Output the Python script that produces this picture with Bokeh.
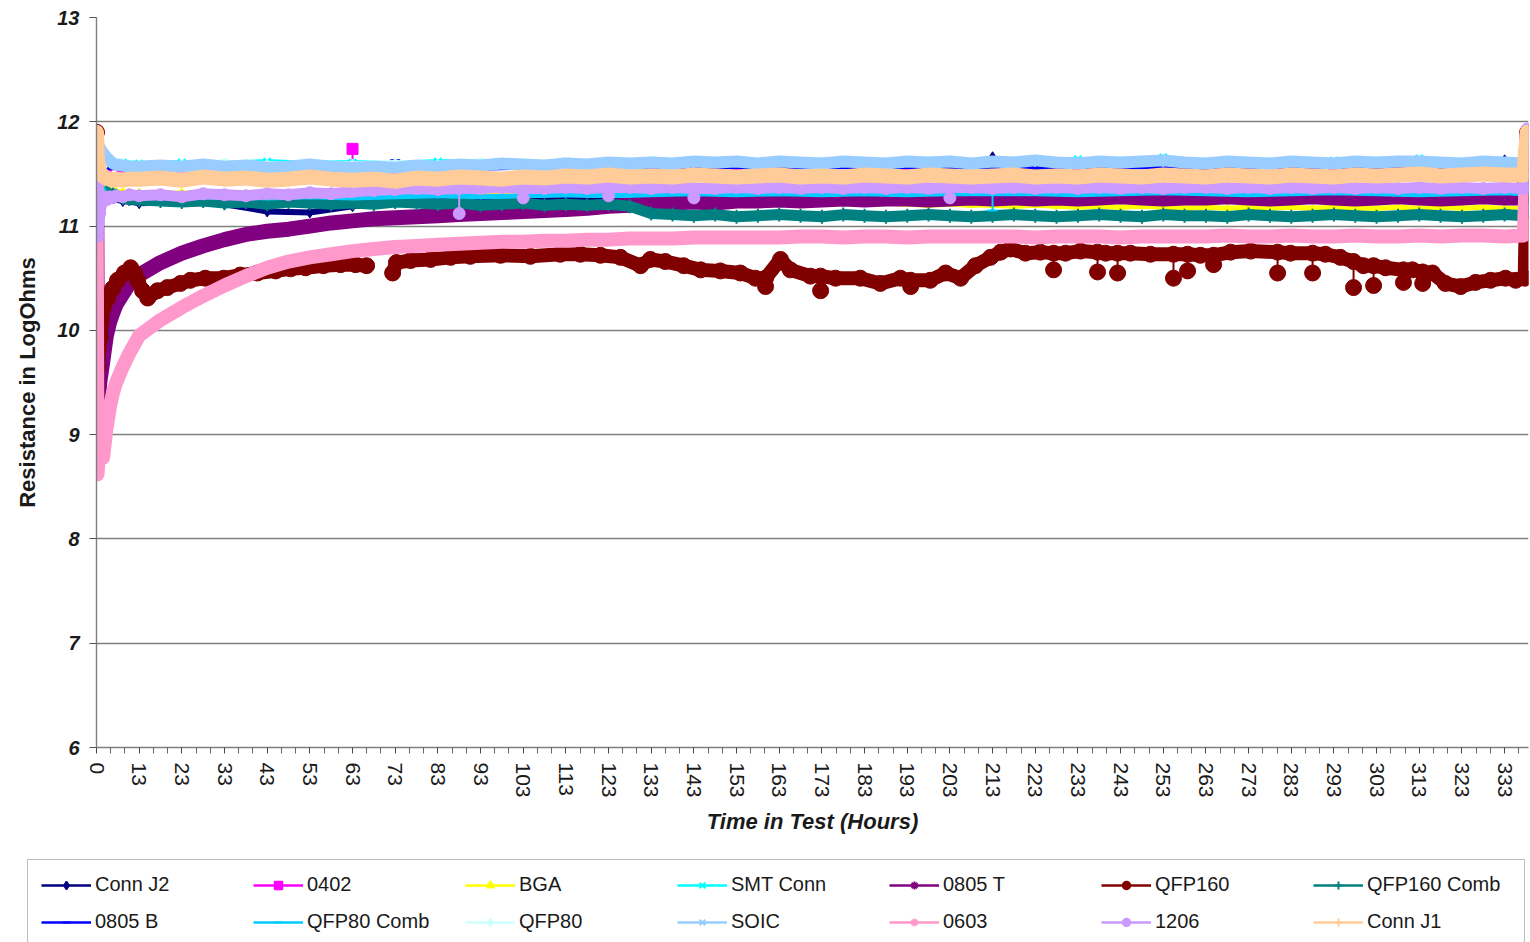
from bokeh.plotting import figure
from bokeh.models import Range1d, FixedTicker, Legend, LegendItem, ColumnDataSource
from bokeh.core.properties import value
from bokeh.embed import file_html
from bokeh.resources import INLINE

FONT = "Liberation Sans"
NAN = float("nan")

# ---------------- data ----------------
x_tick_labels = ["0", "13", "23", "33", "43", "53", "63", "73", "83", "93", "103", "113",
                 "123", "133", "143", "153", "163", "173", "183", "193", "203", "213", "223",
                 "233", "243", "253", "263", "273", "283", "293", "303", "313", "323", "333"]
y_ticks = [6, 7, 8, 9, 10, 11, 12, 13]

hours_dense = [0, 0.3, 1, 2, 3, 4, 5, 6, 8, 10,
               13, 18, 23, 28, 33, 38, 43, 48, 53, 58,
               63, 68, 73, 78, 83, 88, 93, 98, 103, 108,
               113, 118, 123, 128, 133, 138, 143, 148, 153, 158,
               163, 168, 173, 178, 183, 188, 193, 198, 203, 208,
               213, 218, 223, 228, 233, 238, 243, 248, 253, 258,
               263, 268, 273, 278, 283, 288, 293, 298, 303, 308,
               313, 318, 323, 328, 333, 337.5, 338.3]

hours_coarse = [0, 0.3, 3, 8,
                13, 23, 33, 43, 53, 63, 73, 83, 93, 103,
                113, 123, 133, 143, 153, 163, 173, 183, 193, 203,
                213, 223, 233, 243, 253, 263, 273, 283, 293, 303,
                313, 323, 333, 337.5, 338.3]

hours_qfp160 = [0, 0.15, 0.3, 1.2, 2.1, 3.4, 4.9, 6.4, 8.5, 10.4,
                11.6, 12.5, 13.8, 15, 17.3, 19.6, 22.7, 25, 28.5, 32.8,
                36.7, 40.7, 45, 48.5, 52, 56.2, 60.2, 63.7, 66.3, 69,
                72.4, 73.3, 76.6, 81.3, 86, 90.6, 97.7, 104.7, 111.7, 116.4,
                121.1, 125.8, 130.5, 132.8, 136.3, 140.6, 144.6, 149.2, 153.9, 157.4,
                159.8, 163.3, 165.6, 170.3, 172.7, 176.2, 182, 186.7, 191.4, 193.8,
                198.4, 202, 205.5, 209, 212.5, 214.9, 217.2, 220.7, 224.2, 227.3,
                230.1, 233.6, 237.6, 239.5, 242.3, 245.3, 250, 255.4, 258.7, 261.7,
                264.8, 268.8, 273.5, 279.8, 282.8, 288, 291, 294.5, 297.6, 299.9,
                302.3, 305.1, 309.3, 311.4, 313.8, 316.1, 319.1, 322.7, 326.2, 329.7,
                333.2, 335.6, 337.7, 338.4]

conn_j2 = [11.9, 11.26, 11.27, 11.24,
           11.22, 11.23, 11.21, 11.14, 11.13, 11.19, 11.23, 11.24, 11.25, 11.24,
           11.25, 11.24, 11.25, 11.24, 11.25, 11.24, 11.25, 11.24, 11.25, 11.24,
           11.25, 11.25, 11.24, 11.25, 11.24, 11.25, 11.24, 11.25, 11.24, 11.25,
           11.24, 11.25, 11.25, 11.25, 11.9]
conn_j2_spike_hours = [213, 333]
conn_j2_spikes = [11.66, 11.63]

r0402 = [11.9, 11.6, 11.58, 11.57,
         11.56, 11.57, 11.56, 11.57, 11.56, 11.57, 11.56, 11.57, 11.58, 11.57,
         11.58, 11.57, 11.58, 11.57, 11.58, 11.57, 11.58, 11.57, 11.58, 11.57,
         11.58, 11.57, 11.58, 11.57, 11.58, 11.57, 11.58, 11.57, 11.58, 11.57,
         11.58, 11.57, 11.58, 11.57, 11.9]
r0402_spike_hours = [63]
r0402_spikes = [11.74]

bga = [11.9, 11.38, 11.37, 11.36, 11.35, 11.34, 11.34, 11.33, 11.33, 11.32,
       11.32, 11.31, 11.32, 11.31, 11.3, 11.31, 11.3, 11.31, 11.3, 11.29,
       11.3, 11.29, 11.3, 11.31, 11.3, 11.31, 11.32, 11.31, 11.32, 11.31,
       11.32, 11.31, 11.32, 11.31, 11.3, 11.31, 11.3, 11.29, 11.28, 11.27,
       11.26, 11.25, 11.24, 11.23, 11.22, 11.22, 11.21, 11.2, 11.21, 11.2,
       11.2, 11.19, 11.2, 11.19, 11.18, 11.19, 11.18, 11.19, 11.18, 11.17,
       11.18, 11.17, 11.18, 11.17, 11.18, 11.17, 11.18, 11.17, 11.17, 11.18,
       11.17, 11.18, 11.17, 11.18, 11.17, 11.17, 11.9]

smt_conn = [11.9, 11.72, 11.63, 11.61,
            11.6, 11.61, 11.6, 11.62, 11.6, 11.61, 11.6, 11.62, 11.61, 11.6,
            11.62, 11.61, 11.63, 11.62, 11.61, 11.63, 11.62, 11.61, 11.63, 11.62,
            11.61, 11.62, 11.64, 11.61, 11.66, 11.62, 11.61, 11.62, 11.63, 11.62,
            11.65, 11.62, 11.61, 11.62, 11.9]

r0805_t = [11.9, 9.25, 9.5, 9.72, 9.95, 10.08, 10.17, 10.25, 10.35, 10.45,
           10.53, 10.65, 10.74, 10.81, 10.87, 10.92, 10.95, 10.97, 11.0, 11.03,
           11.05, 11.07, 11.08, 11.09, 11.1, 11.11, 11.12, 11.13, 11.14, 11.15,
           11.16, 11.17, 11.19, 11.2, 11.21, 11.22, 11.23, 11.22, 11.24, 11.24,
           11.25, 11.24, 11.25, 11.26, 11.25, 11.26, 11.26, 11.25, 11.26, 11.27,
           11.26, 11.27, 11.26, 11.27, 11.26, 11.27, 11.28, 11.27, 11.26, 11.27,
           11.27, 11.28, 11.27, 11.26, 11.27, 11.28, 11.27, 11.26, 11.27, 11.28,
           11.27, 11.26, 11.27, 11.28, 11.27, 11.27, 11.9]

qfp160 = [11.9, 9.0, 9.64, 9.93, 10.22, 10.31, 10.4, 10.48, 10.55, 10.6,
          10.55, 10.48, 10.38, 10.31, 10.38, 10.41, 10.45, 10.48, 10.5, 10.5,
          10.53, 10.55, 10.57, 10.59, 10.6, 10.62, 10.63, 10.63, 10.62, NAN,
          10.55, 10.65, 10.67, 10.68, 10.7, 10.71, 10.72, 10.71, 10.73, 10.73,
          10.72, 10.7, 10.62, 10.68, 10.66, 10.62, 10.58, 10.57, 10.55, 10.5,
          10.5, 10.68, 10.58, 10.52, 10.52, 10.5, 10.5, 10.45, 10.5, 10.48,
          10.48, 10.55, 10.5, 10.62, 10.7, 10.75, 10.78, 10.74, 10.75, 10.74,
          10.74, 10.76, 10.75, 10.74, 10.74, 10.74, 10.73, 10.73, 10.73, 10.72,
          10.72, 10.75, 10.76, 10.75, 10.74, 10.74, 10.73, 10.7, 10.66, 10.62,
          10.62, 10.6, 10.58, 10.58, 10.56, 10.55, 10.45, 10.42, 10.46, 10.48,
          10.5, 10.48, 10.5, 11.9]
qfp160_dip_hours = [159.8, 172.7, 193.8, 227.3, 237.6, 242.3, 255.4, 258.7, 264.8,
                    279.8, 288, 297.6, 302.3, 309.3, 313.8]
qfp160_dips = [10.42, 10.38, 10.42, 10.58, 10.56, 10.55, 10.5, 10.57, 10.63,
               10.55, 10.55, 10.41, 10.43, 10.46, 10.45]

qfp160_comb = [11.9, 11.36, 11.34, 11.32, 11.33, 11.3, 11.31, 11.29, 11.27, 11.26,
               11.25, 11.24, 11.23, 11.24, 11.22, 11.23, 11.21, 11.23, 11.22, 11.21,
               11.22, 11.21, 11.23, 11.22, 11.21, 11.22, 11.2, 11.21, 11.22, 11.2,
               11.21, 11.2, 11.21, 11.19, 11.12, 11.11, 11.1, 11.11, 11.09, 11.1,
               11.11, 11.1, 11.09, 11.11, 11.1, 11.09, 11.1, 11.11, 11.1, 11.09,
               11.1, 11.11, 11.1, 11.09, 11.1, 11.11, 11.1, 11.09, 11.11, 11.1,
               11.1, 11.09, 11.11, 11.1, 11.09, 11.1, 11.11, 11.1, 11.09, 11.1,
               11.11, 11.1, 11.09, 11.1, 11.11, 11.1, 11.9]

r0805_b = [11.9, 11.58, 11.56, 11.55,
           11.56, 11.55, 11.56, 11.55, 11.56, 11.55, 11.56, 11.56, 11.55, 11.56,
           11.57, 11.56, 11.57, 11.56, 11.57, 11.56, 11.57, 11.56, 11.57, 11.56,
           11.57, 11.56, 11.57, 11.56, 11.57, 11.56, 11.57, 11.56, 11.57, 11.56,
           11.57, 11.56, 11.57, 11.56, 11.9]
r0805_b_spike_hours = [73]
r0805_b_spikes = [11.63]

qfp80_comb = [11.9, 11.45, 11.3, 11.29,
              11.28, 11.27, 11.28, 11.27, 11.28, 11.27, 11.28, 11.29, 11.28, 11.29,
              11.3, 11.29, 11.3, 11.31, 11.3, 11.31, 11.3, 11.31, 11.3, 11.31,
              11.31, 11.31, 11.3, 11.31, 11.32, 11.31, 11.3, 11.31, 11.32, 11.31,
              11.3, 11.31, 11.32, 11.31, 11.9]
qfp80_comb_dip_hours = [213]
qfp80_comb_dips = [11.15]

qfp80 = [11.9, 11.68, 11.6, 11.61,
         11.59, 11.6, 11.61, 11.6, 11.59, 11.6, 11.61, 11.6, 11.62, 11.61,
         11.6, 11.62, 11.61, 11.6, 11.62, 11.61, 11.62, 11.6, 11.61, 11.64,
         11.62, 11.61, 11.6, 11.62, 11.61, 11.6, 11.62, 11.61, 11.6, 11.62,
         11.61, 11.6, 11.62, 11.61, 11.9]

soic = [11.9, 11.8, 11.75, 11.7, 11.66, 11.63, 11.6, 11.59, 11.58, 11.57,
        11.57, 11.58, 11.57, 11.59, 11.57, 11.58, 11.56, 11.57, 11.59, 11.57,
        11.56, 11.57, 11.56, 11.58, 11.57, 11.59, 11.58, 11.6, 11.59, 11.58,
        11.6, 11.59, 11.61, 11.6, 11.61, 11.6, 11.62, 11.61, 11.62, 11.6,
        11.62, 11.61, 11.6, 11.62, 11.61, 11.6, 11.62, 11.61, 11.62, 11.6,
        11.62, 11.61, 11.63, 11.61, 11.6, 11.62, 11.61, 11.62, 11.63, 11.61,
        11.6, 11.62, 11.61, 11.6, 11.62, 11.61, 11.6, 11.62, 11.61, 11.62,
        11.62, 11.61, 11.6, 11.62, 11.61, 11.6, 11.9]

r0603 = [11.9, 8.62, 8.9, 8.78, 9.05, 9.25, 9.4, 9.5, 9.65, 9.78,
         9.95, 10.1, 10.22, 10.33, 10.43, 10.52, 10.6, 10.66, 10.7, 10.73,
         10.76, 10.78, 10.8, 10.81, 10.82, 10.83, 10.84, 10.85, 10.85, 10.86,
         10.86, 10.87, 10.87, 10.88, 10.88, 10.88, 10.89, 10.89, 10.89, 10.89,
         10.89, 10.9, 10.9, 10.89, 10.9, 10.9, 10.89, 10.9, 10.9, 10.9,
         10.9, 10.9, 10.89, 10.9, 10.9, 10.9, 10.89, 10.9, 10.9, 10.9,
         10.9, 10.91, 10.9, 10.9, 10.91, 10.9, 10.9, 10.91, 10.9, 10.9,
         10.91, 10.9, 10.91, 10.91, 10.9, 10.91, 11.9]

r1206 = [11.9, 10.9, 11.12, 11.28, 11.25, 11.28, 11.27, 11.29, 11.28, 11.3,
         11.29, 11.3, 11.28, 11.31, 11.3, 11.29, 11.31, 11.3, 11.32, 11.31,
         11.33, 11.34, 11.35, 11.36, 11.35, 11.36, 11.36, 11.37, 11.36, 11.36,
         11.37, 11.36, 11.37, 11.37, 11.36, 11.37, 11.36, 11.36, 11.37, 11.36,
         11.37, 11.36, 11.37, 11.36, 11.37, 11.36, 11.37, 11.36, 11.37, 11.37,
         11.36, 11.37, 11.36, 11.37, 11.36, 11.37, 11.36, 11.37, 11.36, 11.37,
         11.37, 11.36, 11.37, 11.36, 11.37, 11.36, 11.37, 11.36, 11.37, 11.36,
         11.37, 11.36, 11.37, 11.36, 11.37, 11.36, 11.93]
r1206_dip_hours = [88, 103, 123, 143, 203]
r1206_dips = [11.12, 11.27, 11.29, 11.27, 11.27]

conn_j1 = [11.9, 11.62, 11.52, 11.48, 11.46, 11.45, 11.44, 11.45, 11.44, 11.45,
           11.45, 11.46, 11.44, 11.47, 11.45, 11.46, 11.44, 11.45, 11.47, 11.45,
           11.44, 11.45, 11.43, 11.46, 11.45, 11.47, 11.46, 11.45, 11.47, 11.46,
           11.48, 11.47, 11.49, 11.47, 11.48, 11.47, 11.49, 11.48, 11.47, 11.48,
           11.49, 11.47, 11.48, 11.47, 11.49, 11.48, 11.47, 11.49, 11.48, 11.47,
           11.48, 11.49, 11.47, 11.48, 11.47, 11.49, 11.48, 11.47, 11.49, 11.48,
           11.47, 11.49, 11.48, 11.47, 11.49, 11.48, 11.47, 11.49, 11.48, 11.49,
           11.5, 11.48, 11.49, 11.5, 11.49, 11.49, 11.9]

# name, hours, values, colour, marker, band width, marker size, marker line width,
# legend marker size, outlier hours, outlier values
series = [
    ("Conn J2", hours_coarse, conn_j2, "#000080", "diamond", 6, 11, 1, 11, conn_j2_spike_hours, conn_j2_spikes),
    ("0402", hours_coarse, r0402, "#FF00FF", "square", 4, 11, 1, 10, r0402_spike_hours, r0402_spikes),
    ("BGA", hours_dense, bga, "#FFFF00", "triangle", 5, 8, 1, 11, [], []),
    ("SMT Conn", hours_coarse, smt_conn, "#00FFFF", "x", 5, 10, 2, 10, [], []),
    ("0805 T", hours_dense, r0805_t, "#800080", "asterisk", 15, 13, 2, 10, [], []),
    ("QFP160", hours_qfp160, qfp160, "#800000", "circle", 14, 16, 1, 10, qfp160_dip_hours, qfp160_dips),
    ("QFP160 Comb", hours_dense, qfp160_comb, "#008080", "cross", 11, 14, 2, 10, [], []),
    ("0805 B", hours_coarse, r0805_b, "#0000FF", "dash", 4, 10, 2, 8, r0805_b_spike_hours, r0805_b_spikes),
    ("QFP80 Comb", hours_coarse, qfp80_comb, "#00CCFF", "dash", 5, 10, 2, 8, qfp80_comb_dip_hours, qfp80_comb_dips),
    ("QFP80", hours_coarse, qfp80, "#CCFFFF", "diamond", 5, 9, 1, 10, [], []),
    ("SOIC", hours_dense, soic, "#99CCFF", "x", 12, 11, 2, 10, [], []),
    ("0603", hours_dense, r0603, "#FF99CC", "asterisk", 14, 12, 2, 10, [], []),
    ("1206", hours_dense, r1206, "#CC99FF", "circle", 11, 12, 1, 10, r1206_dip_hours, r1206_dips),
    ("Conn J1", hours_dense, conn_j1, "#FFCC99", "cross", 15, 14, 2, 10, [], []),
]


def hour_to_axis(h):
    # category-axis position: first label interval spans 0-13 h, later ones 10 h
    return h / 13.0 if h < 13 else 1.0 + (h - 13.0) / 10.0


XMAX = hour_to_axis(338.6)

# ---------------- chart ----------------
p = figure(width=1530, height=845, x_range=Range1d(0, XMAX), y_range=Range1d(6, 13),
           output_backend="svg", toolbar_location=None,
           min_border_left=96, min_border_right=2, min_border_top=17, min_border_bottom=98)
p.outline_line_color = None
p.background_fill_color = "white"
p.border_fill_color = "white"

p.xgrid.visible = False
p.ygrid.ticker = FixedTicker(ticks=y_ticks)
p.ygrid.grid_line_color = "#7f7f7f"
p.ygrid.grid_line_width = 1.4

p.yaxis.ticker = FixedTicker(ticks=y_ticks)
p.yaxis.minor_tick_line_color = None
p.yaxis.major_tick_out = 7
p.yaxis.major_tick_in = 0
p.yaxis.major_label_standoff = 10
p.yaxis.axis_line_color = "#7f7f7f"
p.yaxis.axis_line_width = 1.4
p.yaxis.major_tick_line_color = "#555555"
p.yaxis.major_label_text_font = FONT
p.yaxis.major_label_text_font_size = "20px"
p.yaxis.major_label_text_font_style = "bold italic"
p.yaxis.major_label_text_color = "#1a1a1a"
p.yaxis.axis_label = "Resistance in LogOhms"
p.yaxis.axis_label_text_font = FONT
p.yaxis.axis_label_text_font_size = "22px"
p.yaxis.axis_label_text_font_style = "bold"
p.yaxis.axis_label_text_color = "#1a1a1a"
p.yaxis.axis_label_standoff = 14

major_x = list(range(len(x_tick_labels)))
minor_x = [k + f for k in major_x for f in (1.0 / 3.0, 2.0 / 3.0) if k + f < XMAX]
p.xaxis.ticker = FixedTicker(ticks=major_x, minor_ticks=minor_x)
p.xaxis.major_label_overrides = {i: lab for i, lab in enumerate(x_tick_labels)}
p.xaxis.major_label_orientation = "vertical"
p.xaxis.major_tick_out = 6
p.xaxis.major_tick_in = 0
p.xaxis.minor_tick_out = 6
p.xaxis.minor_tick_in = 0
p.xaxis.major_tick_line_color = "#444444"
p.xaxis.minor_tick_line_color = "#666666"
p.xaxis.axis_line_color = "#7f7f7f"
p.xaxis.axis_line_width = 1.4
p.xaxis.major_label_standoff = 9
p.xaxis.major_label_text_font = FONT
p.xaxis.major_label_text_font_size = "21px"
p.xaxis.major_label_text_color = "#1a1a1a"
p.xaxis.axis_label = "Time in Test (Hours)"
p.xaxis.axis_label_text_font = FONT
p.xaxis.axis_label_text_font_size = "22px"
p.xaxis.axis_label_text_font_style = "bold italic"
p.xaxis.axis_label_text_color = "#1a1a1a"
p.xaxis.axis_label_standoff = 8

for name, hrs, vals, color, marker, lw, ms, mlw, lms, o_hrs, o_vals in series:
    if len(hrs) != len(vals) or len(o_hrs) != len(o_vals):
        raise ValueError(f"length mismatch for {name}")
    src = ColumnDataSource(dict(x=[hour_to_axis(h) for h in hrs], y=vals))
    p.line("x", "y", source=src, line_color=color, line_width=lw,
           line_join="round", line_cap="round")
    p.scatter("x", "y", source=src, marker=marker, size=ms,
              fill_color=color, line_color=color, line_width=mlw)
    if o_hrs:
        # outlying readings hang off the band on a thin stalk, as in the original
        ox = [hour_to_axis(h) for h in o_hrs]
        base = [vals[hrs.index(h)] for h in o_hrs]
        p.segment(x0=ox, y0=base, x1=ox, y1=o_vals, line_color=color, line_width=2)
        p.scatter(x=ox, y=o_vals, marker=marker, size=ms,
                  fill_color=color, line_color=color, line_width=mlw)

# ---------------- legend strip (separate root, stacked under the chart) ----------------
LH = 97
lg = figure(width=1530, height=LH, x_range=Range1d(0, 1), y_range=Range1d(0, 1),
            output_backend="svg", toolbar_location=None, min_border=0,
            min_border_left=0, min_border_right=0, min_border_top=0, min_border_bottom=0,
            x_axis_location=None, y_axis_location=None)
lg.outline_line_color = None
lg.grid.visible = False
lg.background_fill_color = "white"
lg.border_fill_color = "white"

items = []
for name, hrs, vals, color, marker, lw, ms, mlw, lms, o_hrs, o_vals in series:
    r_line = lg.line(x=[NAN], y=[NAN], line_color=color, line_width=2.5)
    r_mark = lg.scatter(x=[NAN], y=[NAN], marker=marker, size=lms, fill_color=color,
                        line_color=color, line_width=max(mlw, 1.5))
    items.append(LegendItem(label=value(name), renderers=[r_line, r_mark]))

legend = Legend(items=items, location=(27, -5), orientation="horizontal", ncols=7,
                glyph_width=50, glyph_height=20, label_height=20, label_width=144,
                label_standoff=4, spacing=14, padding=13, margin=0,
                border_line_color="#808080", border_line_width=1.5,
                background_fill_color="white", background_fill_alpha=1.0,
                label_text_font=FONT, label_text_font_size="20px",
                label_text_color="#1a1a1a")
lg.add_layout(legend)

open("out.html", "w").write(file_html([p, lg], INLINE))
